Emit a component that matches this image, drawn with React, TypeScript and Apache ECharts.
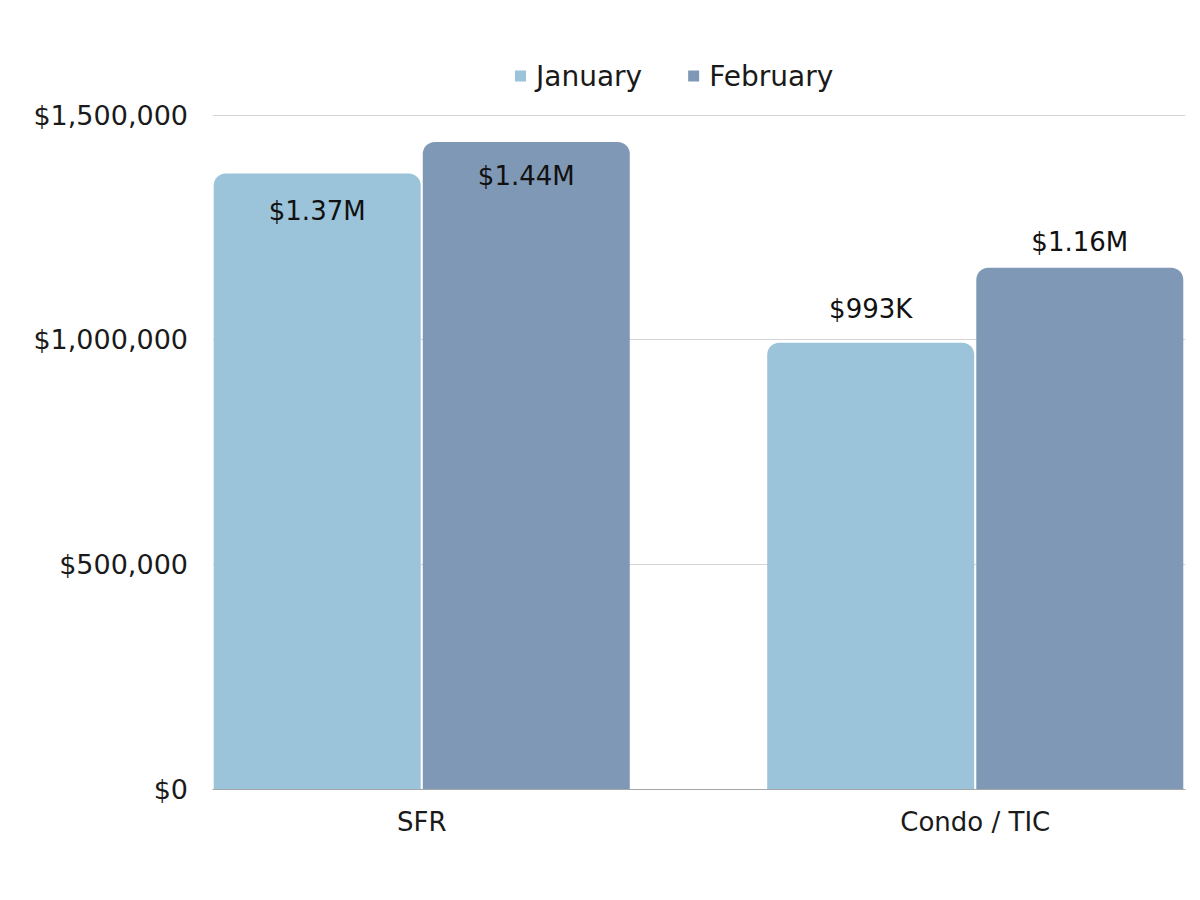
import React, { useEffect, useRef } from "react";
import * as echarts from "echarts";

const categories = ["SFR", "Condo / TIC"];
const seriesNames = ["January", "February"];
const januaryValues = [1370000, 993000];
const februaryValues = [1440000, 1160000];
const januaryLabels = ["$1.37M", "$993K"];
const februaryLabels = ["$1.44M", "$1.16M"];
const labelInside = [true, false];
const yTicks = [0, 500000, 1000000, 1500000];

const FONT = "'DejaVu Sans', sans-serif";
const TEXT = "#1a1a1a";
const COLORS = ["#9bc3d9", "#7f98b5"];

function buildData(values: number[], labels: string[], insideDist: number, topDist: number) {
  return values.map((v, i) => ({
    value: v,
    label: labelInside[i]
      ? { position: "insideTop", distance: insideDist, formatter: labels[i] }
      : { position: "top", distance: topDist, formatter: labels[i] },
  }));
}

export default function App() {
  const ref = useRef<HTMLDivElement>(null);
  useEffect(() => {
    if (!ref.current) return;
    const chart = echarts.init(ref.current, null, { renderer: "svg" });
    const labelCommon = {
      show: true,
      color: "#111",
      fontSize: 26,
      fontFamily: FONT,
    };
    chart.setOption({
      animation: false,
      textStyle: { fontFamily: FONT },
      legend: {
        top: 57,
        left: 510,
        itemWidth: 11,
        itemHeight: 11,
        itemGap: 46,
        icon: "rect",
        textStyle: { fontSize: 28, color: TEXT, fontFamily: FONT, padding: [0, 0, 0, 5] },
        data: seriesNames,
      },
      grid: [
        { left: 145, width: 1107, top: 115, bottom: 111, outerBoundsMode: "none" },
        { left: 213, right: 15, top: 115, bottom: 111, outerBoundsMode: "none" },
      ],
      xAxis: [
        {
          type: "category",
          gridIndex: 0,
          data: categories,
          axisLine: { show: false },
          axisTick: { show: false },
          axisLabel: { fontSize: 26, color: TEXT, fontFamily: FONT, margin: 20 },
        },
        {
          type: "value",
          gridIndex: 1,
          min: 0,
          max: 1,
          axisLine: { show: true, onZero: false, lineStyle: { color: "#a6a6a6", width: 1 } },
          axisTick: { show: false },
          axisLabel: { show: false },
          splitLine: { show: false },
        },
      ],
      yAxis: [
        {
          type: "value",
          gridIndex: 0,
          min: 0,
          max: 1500000,
          interval: 500000,
          show: false,
          splitLine: { show: false },
        },
        {
          type: "value",
          gridIndex: 1,
          min: yTicks[0],
          max: yTicks[yTicks.length - 1],
          interval: yTicks[1] - yTicks[0],
          axisLine: { show: false },
          axisTick: { show: false },
          axisLabel: {
            fontSize: 27,
            color: TEXT,
            fontFamily: FONT,
            margin: 25,
            formatter: (v: number) => "$" + v.toLocaleString("en-US"),
          },
          splitLine: { lineStyle: { color: "#d4d4d4", width: 1 } },
        },
      ],
      series: [
        {
          name: seriesNames[0],
          type: "bar",
          xAxisIndex: 0,
          yAxisIndex: 0,
          barWidth: 207,
          barGap: "1%",
          itemStyle: { color: COLORS[0], borderRadius: [12, 12, 0, 0] },
          label: labelCommon,
          data: buildData(januaryValues, januaryLabels, 25, 21),
        },
        {
          name: seriesNames[1],
          type: "bar",
          xAxisIndex: 0,
          yAxisIndex: 0,
          barWidth: 207,
          barGap: "1%",
          itemStyle: { color: COLORS[1], borderRadius: [12, 12, 0, 0] },
          label: labelCommon,
          data: buildData(februaryValues, februaryLabels, 21, 13),
        },
      ],
    });
    return () => chart.dispose();
  }, []);
  return (
    <div
      ref={ref}
      style={{ position: "fixed", left: 0, top: 0, width: 1200, height: 900, background: "#fff" }}
    />
  );
}
